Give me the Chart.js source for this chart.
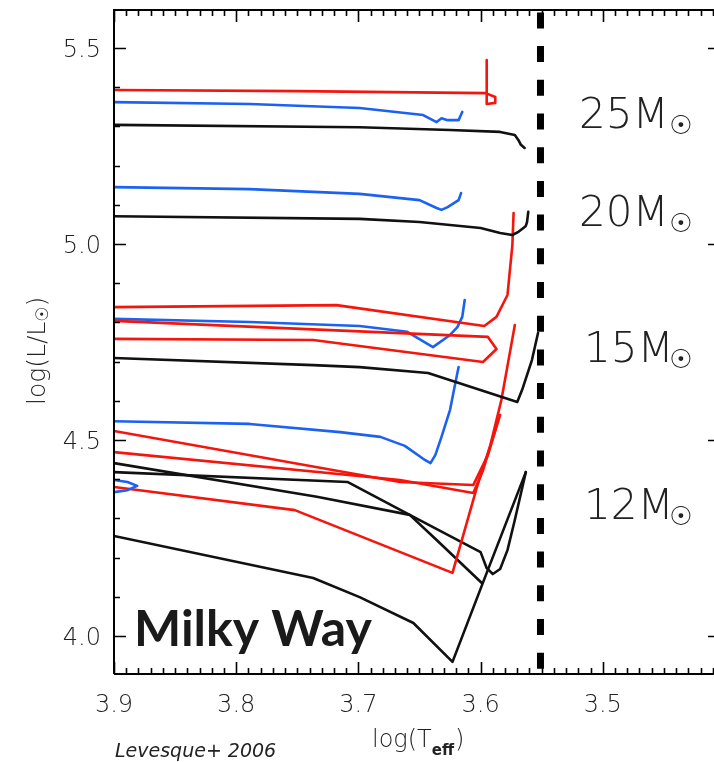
<!DOCTYPE html>
<html>
<head>
<meta charset="utf-8">
<script src="https://cdn.jsdelivr.net/npm/chart.js@4.4.1/dist/chart.umd.min.js"></script>
<style>
html,body{margin:0;padding:0;background:#fff;}
#wrap{position:relative;width:714px;height:762px;}
</style>
</head>
<body>
<div id="wrap"><canvas id="hr" width="714" height="762"></canvas></div>
<script>
// axis ticks
const xTicks = [3.9, 3.8, 3.7, 3.6, 3.5];
const yTicks = [4.0, 4.5, 5.0, 5.5];

// 25 Msun tracks
const red25T = [3.900, 3.750, 3.596, 3.588, 3.588, 3.595, 3.595];
const red25L = [5.393, 5.390, 5.385, 5.375, 5.360, 5.357, 5.469];
const blue25T = [3.900, 3.789, 3.699, 3.647, 3.636, 3.632, 3.627, 3.618, 3.615];
const blue25L = [5.362, 5.357, 5.347, 5.329, 5.311, 5.321, 5.316, 5.316, 5.337];
const black25T = [3.900, 3.699, 3.625, 3.584, 3.572, 3.569, 3.567, 3.564];
const black25L = [5.304, 5.298, 5.291, 5.286, 5.278, 5.265, 5.253, 5.245];

// 20 Msun tracks
const blue20T = [3.900, 3.789, 3.699, 3.650, 3.636, 3.632, 3.627, 3.618, 3.616];
const blue20L = [5.145, 5.140, 5.128, 5.112, 5.092, 5.087, 5.094, 5.112, 5.130];
const black20T = [3.900, 3.699, 3.650, 3.600, 3.584, 3.574, 3.569, 3.565, 3.563, 3.562, 3.561];
const black20L = [5.071, 5.064, 5.056, 5.041, 5.028, 5.023, 5.031, 5.041, 5.046, 5.056, 5.082];

// red tracks around log L 4.8
const redMidAT = [3.900, 3.718, 3.597, 3.587, 3.578, 3.574, 3.573];
const redMidAL = [4.839, 4.844, 4.791, 4.814, 4.870, 4.997, 5.079];
const redMidBT = [3.900, 3.594, 3.587, 3.598, 3.737, 3.900];
const redMidBL = [4.804, 4.763, 4.732, 4.699, 4.755, 4.758];

// 15 Msun tracks
const blue15T = [3.900, 3.789, 3.699, 3.660, 3.639, 3.625, 3.619, 3.615, 3.613];
const blue15L = [4.809, 4.801, 4.791, 4.776, 4.737, 4.768, 4.788, 4.814, 4.857];
const black15T = [3.900, 3.737, 3.699, 3.643, 3.570, 3.566, 3.558, 3.553];
const black15L = [4.709, 4.691, 4.686, 4.671, 4.597, 4.628, 4.704, 4.773];
const blueLowT = [3.900, 3.789, 3.715, 3.682, 3.662, 3.647, 3.641, 3.637, 3.632, 3.625, 3.621, 3.618];
const blueLowL = [4.548, 4.541, 4.520, 4.508, 4.485, 4.452, 4.441, 4.462, 4.508, 4.577, 4.640, 4.686];
const blueLoopT = [3.900, 3.889, 3.881, 3.889, 3.900];
const blueLoopL = [4.398, 4.393, 4.383, 4.372, 4.367];

// red tracks around log L 4.4
const redLowAT = [3.900, 3.666, 3.606, 3.594, 3.584];
const redLowAL = [4.523, 4.393, 4.385, 4.462, 4.564];
const redLowBT = [3.900, 3.666, 3.606, 3.598, 3.588];
const redLowBL = [4.469, 4.398, 4.365, 4.423, 4.526];
const redLowCT = [3.900, 3.752, 3.623, 3.603, 3.592, 3.583, 3.572];
const redLowCL = [4.380, 4.321, 4.161, 4.380, 4.487, 4.602, 4.793];

// 12 Msun black tracks
const blackXT = [3.900, 3.709, 3.658, 3.600, 3.595, 3.590, 3.584, 3.578, 3.572, 3.563];
const blackXL = [4.418, 4.393, 4.309, 4.214, 4.173, 4.158, 4.171, 4.219, 4.296, 4.418];
const blackYT = [3.900, 3.734, 3.658, 3.636, 3.599];
const blackYL = [4.441, 4.355, 4.309, 4.245, 4.135];
const blackZT = [3.900, 3.737, 3.699, 3.655, 3.623, 3.595, 3.563];
const blackZL = [4.255, 4.148, 4.099, 4.033, 3.934, 4.161, 4.418];

// Hayashi limit
const limitT = [3.551, 3.551];
const limitL = [5.597, 3.903];

const massNames = ['25', '20', '15', '12'];

const RED = '#f5150c', BLUE = '#1c62f2', BLACK = '#111111';

function pts(T, L) {
  return T.map((t, i) => ({x: t, y: L[i]}));
}

function track(T, L, color) {
  return {
    data: pts(T, L),
    showLine: true,
    borderColor: color,
    borderWidth: 2.6,
    pointRadius: 0,
    tension: 0,
    borderJoinStyle: 'round',
    borderCapStyle: 'round'
  };
}

const frame = {
  id: 'frame',
  afterDraw(chart) {
    const ctx = chart.ctx;
    const xs = chart.scales.x, ys = chart.scales.y;
    const a = chart.chartArea;
    ctx.save();
    ctx.strokeStyle = '#000';
    ctx.lineWidth = 2;
    ctx.beginPath();
    ctx.moveTo(a.left, a.bottom);
    ctx.lineTo(a.left, a.top);
    ctx.lineTo(714, a.top);
    ctx.moveTo(a.left, a.bottom);
    ctx.lineTo(714, a.bottom);
    ctx.stroke();

    ctx.lineWidth = 1.6;
    ctx.beginPath();
    for (let i = 341; i <= 390; i++) {
      const px = Math.round(xs.getPixelForValue(i / 100)) + 0.5;
      const len = i % 10 === 0 ? 12 : 6;
      ctx.moveTo(px, a.bottom); ctx.lineTo(px, a.bottom - len);
      ctx.moveTo(px, a.top); ctx.lineTo(px, a.top + len);
    }
    for (let i = 40; i <= 55; i++) {
      const py = Math.round(ys.getPixelForValue(i / 10)) + 0.5;
      const major = i % 5 === 0;
      ctx.moveTo(a.left, py); ctx.lineTo(a.left + (major ? 12 : 6), py);
      if (major) { ctx.moveTo(708, py); ctx.lineTo(714, py); }
    }
    ctx.stroke();

    ctx.fillStyle = '#222';
    ctx.font = '200 24px "DejaVu Sans"';
    ctx.textAlign = 'center';
    ctx.textBaseline = 'middle';
    xTicks.forEach(v => ctx.fillText(v.toFixed(1), xs.getPixelForValue(v), 706));
    ctx.textAlign = 'right';
    yTicks.forEach(v => ctx.fillText(v.toFixed(1), 101, ys.getPixelForValue(v) + 3));

    // x title
    ctx.textAlign = 'left';
    ctx.textBaseline = 'alphabetic';
    ctx.font = '200 24px "DejaVu Sans"';
    let x0 = 372;
    ctx.fillText('log(T', x0, 747);
    x0 += ctx.measureText('log(T').width;
    ctx.font = 'bold 15px "DejaVu Sans"';
    ctx.fillText('eff', x0, 755);
    x0 += ctx.measureText('eff').width + 1;
    ctx.font = '200 24px "DejaVu Sans"';
    ctx.fillText(')', x0, 747);

    // y title
    ctx.save();
    ctx.translate(45, 405);
    ctx.rotate(-Math.PI / 2);
    ctx.font = '200 25px "DejaVu Sans"';
    let y0 = 0;
    ctx.fillText('log(L/L', y0, 0);
    y0 += ctx.measureText('log(L/L').width;
    ctx.font = '17px "DejaVu Sans"';
    ctx.fillText('\u2609', y0, 3);
    y0 += ctx.measureText('\u2609').width;
    ctx.font = '200 25px "DejaVu Sans"';
    ctx.fillText(')', y0, 0);
    ctx.restore();

    // mass labels
    const labelY = [128, 226, 362, 519];
    massNames.forEach((m, i) => {
      ctx.font = '200 42px "DejaVu Sans"';
      ctx.textAlign = 'left';
      ctx.textBaseline = 'alphabetic';
      ctx.fillStyle = '#222';
      const lx = m === '15' || m === '12' ? 584 : 579;
      ctx.fillText(m + 'M', lx, labelY[i]);
      ctx.font = '26px "DejaVu Sans"';
      ctx.textAlign = 'center';
      ctx.textBaseline = 'middle';
      ctx.fillText('\u2609', 681, labelY[i] - 1);
    });

    ctx.fillStyle = '#1a1a1a';
    ctx.textAlign = 'left';
    ctx.textBaseline = 'alphabetic';
    ctx.font = 'bold 50px Lato';
    ctx.fillText('Milky Way', 134, 646);

    ctx.fillStyle = '#222';
    ctx.font = 'italic 19px "DejaVu Sans"';
    ctx.fillText('Levesque+ 2006', 115, 757);
    ctx.restore();
  }
};

new Chart(document.getElementById('hr'), {
  type: 'scatter',
  data: {
    datasets: [
      {
        data: pts(limitT, limitL),
        showLine: true,
        borderColor: '#000',
        borderWidth: 7,
        borderDash: [16, 17.7],
        borderDashOffset: 31.3,
        borderCapStyle: 'butt',
        pointRadius: 0
      },
      track(red25T, red25L, RED),
      track(blue25T, blue25L, BLUE),
      track(black25T, black25L, BLACK),
      track(blue20T, blue20L, BLUE),
      track(black20T, black20L, BLACK),
      track(redMidAT, redMidAL, RED),
      track(redMidBT, redMidBL, RED),
      track(blue15T, blue15L, BLUE),
      track(black15T, black15L, BLACK),
      track(blueLowT, blueLowL, BLUE),
      track(blueLoopT, blueLoopL, BLUE),
      track(redLowAT, redLowAL, RED),
      track(redLowBT, redLowBL, RED),
      track(redLowCT, redLowCL, RED),
      track(blackXT, blackXL, BLACK),
      track(blackYT, blackYL, BLACK),
      track(blackZT, blackZL, BLACK)
    ]
  },
  options: {
    responsive: false,
    animation: false,
    devicePixelRatio: 1,
    layout: {padding: {left: 114, top: 10, right: 0, bottom: 88}},
    scales: {
      x: {type: 'linear', reverse: true, min: 3.409, max: 3.9, display: false},
      y: {type: 'linear', min: 3.903, max: 5.597, display: false}
    },
    plugins: {legend: {display: false}, tooltip: {enabled: false}}
  },
  plugins: [frame]
});
</script>
</body>
</html>
